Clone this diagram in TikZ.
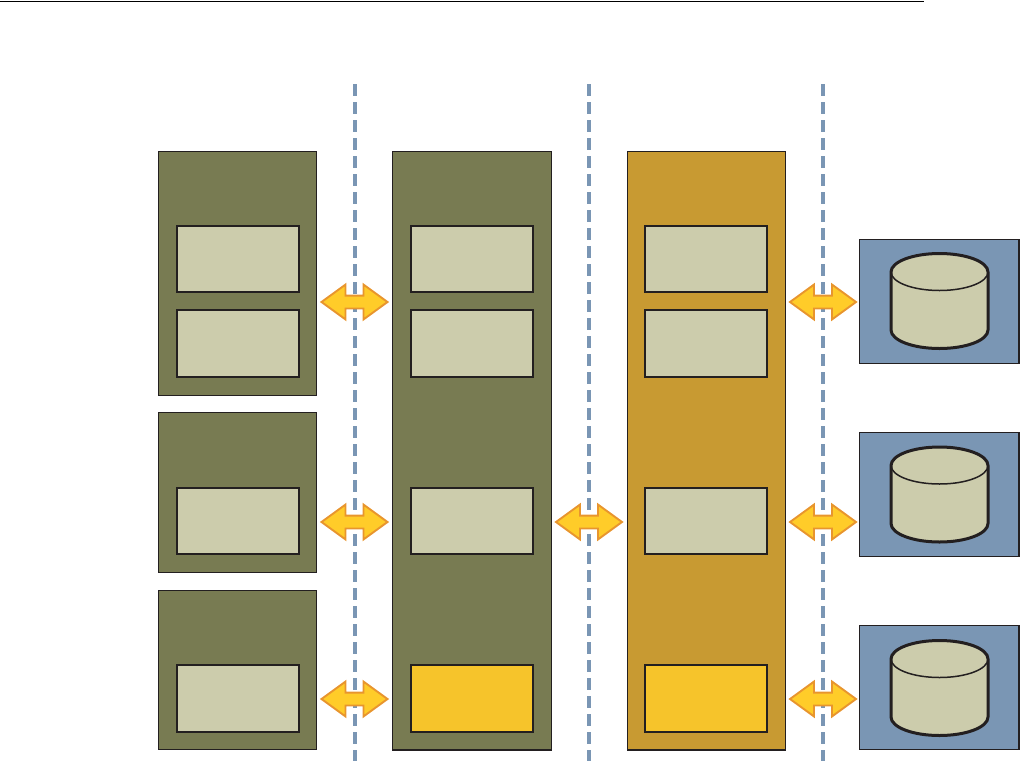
\documentclass[tikz,border=0pt]{standalone}
\usetikzlibrary{shapes.arrows}
\definecolor{olive}{HTML}{787B52}
\definecolor{gold}{HTML}{C89A32}
\definecolor{slate}{HTML}{7A96B4}
\definecolor{pale}{HTML}{CCCCAC}
\definecolor{amber}{HTML}{F6C42B}
\definecolor{arrowfill}{HTML}{FFCC29}
\definecolor{arrowedge}{HTML}{E8952E}
\definecolor{ink}{HTML}{231F20}
\tikzset{
  x=1pt,y=-1pt,
  panel/.style={draw=ink,line width=1.3pt,inner sep=0pt,outer sep=0pt,anchor=north west},
  olivepanel/.style={panel,fill=olive},
  goldpanel/.style={panel,fill=gold},
  bluepanel/.style={panel,fill=slate},
  inner/.style={draw=ink,line width=1.8pt,inner sep=0pt,outer sep=0pt,anchor=north west,minimum width=122pt,minimum height=66pt},
  palebox/.style={inner,fill=pale},
  amberbox/.style={inner,fill=amber},
  link/.style={double arrow,draw=arrowedge,fill=arrowfill,line width=1.9pt,inner xsep=0pt,inner ysep=5.5pt,outer sep=0pt,
    minimum height=66pt,minimum width=33pt,double arrow head extend=11pt,
    double arrow tip angle=72,shape border rotate=0},
  boundary/.style={draw=slate,line width=4pt,dash pattern=on 12pt off 6pt},
  pics/dbcyl/.style={code={
    \fill[pale] (-48.5,-29) arc[start angle=180,end angle=0,x radius=48.5pt,y radius=18.5pt]
      -- (48.5,29) arc[start angle=0,end angle=-180,x radius=48.5pt,y radius=18.5pt] -- cycle;
    \draw[ink,line width=1.5pt] (-48.5,-29) arc[start angle=180,end angle=360,x radius=48.5pt,y radius=18.5pt];
    \draw[ink,line width=3pt,line join=round] (-48.5,-29) arc[start angle=180,end angle=0,x radius=48.5pt,y radius=18.5pt]
      -- (48.5,29) arc[start angle=0,end angle=-180,x radius=48.5pt,y radius=18.5pt] -- cycle;
  }}
}
\begin{document}
\begin{tikzpicture}
\useasboundingbox (0,0) rectangle (1020,761);
% top rule
\coordinate (ruleL) at (0,1.2);
\coordinate (ruleR) at (924,1.2);
\draw[black,line width=1.1pt] (ruleL) -- (ruleR);
% tier boundaries
\foreach \n/\x in {a/354.8,b/589,c/823}{
  \coordinate (\n top) at (\x,84);
  \coordinate (\n bot) at (\x,761);
  \draw[boundary] (\n top) -- (\n bot);
}
% panels
\node[olivepanel,minimum width=158pt,minimum height=244pt] (c1) at (158.5,151.5) {};
\node[olivepanel,minimum width=158pt,minimum height=160pt] (c2) at (158.5,412.5) {};
\node[olivepanel,minimum width=158pt,minimum height=159pt] (c3) at (158.5,590.5) {};
\node[olivepanel,minimum width=159pt,minimum height=598.5pt] (w) at (392.5,151.5) {};
\node[goldpanel,minimum width=158pt,minimum height=598.5pt] (g) at (627.5,151.5) {};
\node[bluepanel,minimum width=159.5pt,minimum height=124pt] (d1) at (859.5,239.5) {};
\node[bluepanel,minimum width=159.5pt,minimum height=124pt] (d2) at (859.5,432.5) {};
\node[bluepanel,minimum width=159.5pt,minimum height=124pt] (d3) at (859.5,625.5) {};
% inner boxes
\foreach \n/\x in {l/177,m/411,r/645}{
  \node[palebox] (\n1) at (\x,226) {};
  \node[palebox,minimum height=67pt] (\n2) at (\x,310) {};
  \node[palebox] (\n3) at (\x,488) {};
}
\node[palebox,minimum height=67pt] (l4) at (177,665) {};
\node[amberbox,minimum height=67pt] (m4) at (411,665) {};
\node[amberbox,minimum height=67pt] (r4) at (645,665) {};
% links
\foreach \n/\x/\y in {p/354.5/302,q/354.5/522,s/354.5/699,t/589/522,u/823/302,v/823/522,w2/823/699}{
  \node[link] (\n) at (\x,\y) {};
}
% databases
\pic at (939.5,301) {dbcyl};
\pic at (939.5,494.5) {dbcyl};
\pic at (939.5,688) {dbcyl};
\end{tikzpicture}
\end{document}
